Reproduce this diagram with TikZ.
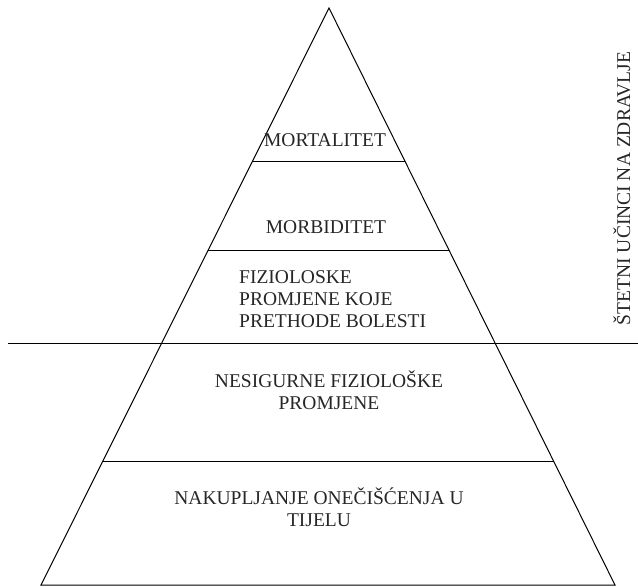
\documentclass[tikz,border=0pt]{standalone}
\usepackage{fontspec}
\setmainfont{Liberation Serif}
\usetikzlibrary{calc}
\begin{document}
\begin{tikzpicture}[x=1pt,y=-1pt,
  edge/.style={line width=1pt, black},
  lbl/.style={inner sep=0pt, font=\fontsize{19.5}{22}\selectfont, text=black!85},
  ]
\useasboundingbox (0,0) rectangle (638,587);
\coordinate (apex) at (329,8);
\coordinate (bl) at (41,585);
\coordinate (br) at (615,585);
\draw[edge] (apex) -- (bl) -- (br) -- cycle;
% tier lines
\coordinate (l1) at ($(apex)!0.2652!(bl)$);
\coordinate (r1) at ($(apex)!0.2652!(br)$);
\coordinate (l2) at ($(apex)!0.4211!(bl)$);
\coordinate (r2) at ($(apex)!0.4211!(br)$);
\coordinate (l4) at ($(apex)!0.7851!(bl)$);
\coordinate (r4) at ($(apex)!0.7851!(br)$);
\coordinate (s1) at (8,343);
\coordinate (s2) at (638,343);
\draw[edge] (l1) -- (r1);
\draw[edge] (l2) -- (r2);
\draw[edge] (l4) -- (r4);
\draw[edge] (s1) -- (s2);
% labels
\node[lbl, anchor=base] (mort) at (325,146) {MORTALITET};
\node[lbl, anchor=base] (morb) at (326,233.5) {MORBIDITET};
\node[lbl, anchor=north west, align=left] (fiz) at (239,270) {FIZIOLOSKE\\PROMJENE KOJE\\PRETHODE BOLESTI};
\node[lbl, anchor=north, align=center] (nes) at (329,371) {NESIGURNE FIZIOLOŠKE\\PROMJENE};
\node[lbl, anchor=north, align=center] (nak) at (319,488) {NAKUPLJANJE ONEČIŠĆENJA U\\TIJELU};
\node[lbl, rotate=90] (side) at (622,188.5) {ŠTETNI UČINCI NA ZDRAVLJE};
\end{tikzpicture}
\end{document}
